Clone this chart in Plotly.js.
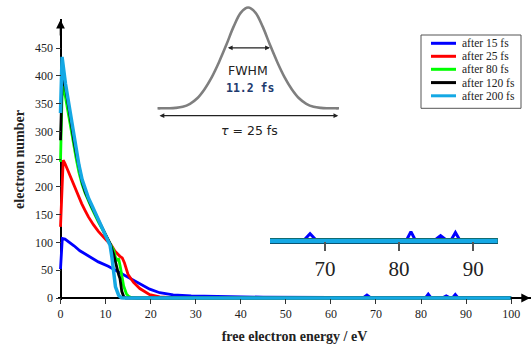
<!DOCTYPE html>
<html><head><meta charset="utf-8">
<script src="https://cdn.plot.ly/plotly-3.0.1.min.js"></script>
<style>html,body{margin:0;padding:0;background:#fff}#chart{width:532px;height:344px}</style>
</head><body><div id="chart"></div>
<script>
// ---------- data ----------
const seriesNames  = ['after 15 fs','after 25 fs','after 80 fs','after 120 fs','after 200 fs'];
const seriesColors = ['#0000ff','#ff0000','#00ff00','#000000','#14a8e4'];

const x15 = [0, 0.4, 1.0, 1.7, 3.0, 4.3, 6.2, 8.4, 10.6, 13.6, 16.5, 18.3, 19.8, 22, 25, 29, 36, 45, 60, 67.2, 68.0, 68.8, 81.0, 81.6, 82.2, 84.8, 85.6, 86.4, 87.0, 87.6, 88.2, 100];
const y15 = [52, 107, 106, 102, 94, 85, 75, 65, 57, 44, 31, 23, 16, 9.5, 5.5, 4, 2.5, 1.5, 1, 0.7, 5.5, 0.7, 0.6, 7, 0.6, 0.6, 4, 0.6, 0.6, 6.3, 0.6, 0.5];

const x25 = [0, 0.6, 1.0, 1.7, 2.5, 3.5, 4.7, 5.5, 6.2, 7.3, 8.4, 10.2, 11.2, 12.1, 12.6, 13.2, 13.7, 14.2, 15, 16.2, 17.6, 19.8, 22, 25, 30, 100];
const y25 = [128, 248, 242, 228, 212, 192, 170, 157, 146, 132, 120, 104, 96, 84, 79, 75, 72, 63, 42, 28, 17, 6, 2, 0.8, 0.2, 0];

const x80 = [0, 0.4, 1.1, 2.25, 3.0, 3.5, 4.1, 4.8, 5.5, 6.2, 6.9, 8.4, 9.8, 10.6, 11.2, 11.8, 12.4, 12.9, 13.3, 14.0, 14.6, 15.1, 15.8, 17, 100];
const y80 = [245, 385, 362, 306, 272, 250, 226, 204, 188, 174, 162, 137, 115, 102, 94, 86, 67, 71, 55, 22, 8, 3, 0.5, 0, 0];

const x120 = [0, 0.4, 1.1, 2.25, 3.0, 3.5, 4.1, 4.8, 5.5, 6.2, 6.9, 8.4, 9.8, 10.6, 11.0, 11.8, 12.5, 12.9, 13.2, 13.6, 14.0, 14.5, 100];
const y120 = [284, 400, 380, 318, 282, 260, 234, 209, 191, 177, 165, 140, 117, 102, 98, 78, 52, 42, 35, 12, 3, 0, 0];

const x200 = [0, 0.35, 1.1, 2.25, 3.0, 3.5, 4.1, 4.8, 5.5, 6.2, 6.9, 8.4, 9.8, 10.6, 11.0, 11.4, 11.8, 12.2, 12.9, 13.5, 14, 100];
const y200 = [333, 434, 386, 326, 288, 265, 239, 213, 195, 180, 168, 142, 119, 104, 95, 74, 44, 20, 5, 0.5, 0, 0];

const xTicks = [0, 10, 20, 30, 40, 50, 60, 70, 80, 90, 100];
const yTicks = [0, 50, 100, 150, 200, 250, 300, 350, 400, 450];
const insetTicks = [70, 80, 90];

// schematic pulse (time in fs, normalised intensity)
const pulseT = [-12.5, -12, -11, -10, -9, -8, -7, -6, -5, -4, -3, -2, -1, 0, 1, 2, 3, 4, 5, 6, 7, 8, 9, 10, 11, 12, 12.5];
const pulseI = [0, 0, 0.001, 0.004, 0.015, 0.045, 0.10, 0.19, 0.31, 0.46, 0.63, 0.81, 0.95, 1, 0.95, 0.81, 0.63, 0.46, 0.31, 0.19, 0.10, 0.045, 0.015, 0.004, 0.001, 0, 0];
const fwhmHalf = 3.0, fwhmLevel = 0.6, pulseSpan = 12.4, spanLevel = -0.073;

// ---------- geometry helpers ----------
const W = 532, H = 344, M = {l: 58, r: 1, t: 2, b: 44};
const pw = W - M.l - M.r, ph = H - M.t - M.b;
const fx = px => (px - M.l) / pw;
const fy = py => (H - M.b - py) / ph;

const serif = 'Liberation Serif, Times New Roman, serif';
const xs = [x15, x25, x80, x120, x200];
const ys = [y15, y25, y80, y120, y200];

const traces = [];
for (let i = 0; i < 5; i++) {
  traces.push({x: xs[i], y: ys[i], type: 'scatter', mode: 'lines', name: seriesNames[i],
    xaxis: 'x', yaxis: 'y', showlegend: false, hoverinfo: 'skip',
    line: {color: seriesColors[i], width: i === 4 ? 3.5 : 2.8}});
}
for (let i = 0; i < 5; i++) {
  traces.push({x: xs[i], y: ys[i], type: 'scatter', mode: 'lines', name: seriesNames[i],
    xaxis: 'x3', yaxis: 'y3', showlegend: false, hoverinfo: 'skip',
    line: {color: seriesColors[i], width: i === 0 ? 3 : (i === 4 ? 5 : 5.7)}});
}
traces.push({x: pulseT, y: pulseI, type: 'scatter', mode: 'lines', xaxis: 'x2', yaxis: 'y2',
  showlegend: false, hoverinfo: 'skip', line: {color: '#7f7f7f', width: 2.6, shape: 'spline', smoothing: 1}});

const tickFont = {family: serif, size: 12, color: '#222'};
const mainX = [-0.554, 104.4], mainY = [-3.6, 502.2];
const yDomTop = fy(19);

const layout = {
  width: W, height: H, margin: M, paper_bgcolor: '#fff', plot_bgcolor: 'rgba(0,0,0,0)',
  showlegend: false,
  xaxis: {domain: [0, 1], range: mainX, anchor: 'free', position: fy(298), tickmode: 'array', tickvals: xTicks,
    ticks: 'outside', ticklen: 5, tickwidth: 1, tickcolor: '#333', showgrid: false, showline: false,
    zeroline: true, zerolinecolor: '#000', zerolinewidth: 2, tickfont: tickFont,
    title: {text: 'free electron energy / eV', font: {family: serif, size: 14, color: '#222', weight: 'bold'}, standoff: 11}},
  yaxis: {domain: [0, yDomTop], range: mainY, anchor: 'free', position: fx(60.5), tickmode: 'array', tickvals: yTicks,
    ticks: 'outside', ticklen: 5, tickwidth: 1, tickcolor: '#333', showgrid: false, showline: false,
    zeroline: true, zerolinecolor: '#000', zerolinewidth: 2, tickfont: tickFont,
    title: {text: 'electron number', font: {family: serif, size: 14, color: '#222', weight: 'bold'}, standoff: 6}},
  xaxis4: {overlaying: 'x', range: mainX, anchor: 'free', position: fy(298), tickmode: 'array', tickvals: xTicks,
    ticks: 'inside', ticklen: 6, tickwidth: 1, tickcolor: '#333', showticklabels: false, showgrid: false, zeroline: false, showline: false},
  yaxis4: {overlaying: 'y', range: mainY, anchor: 'free', position: fx(60.5), tickmode: 'array', tickvals: yTicks,
    ticks: 'inside', ticklen: 6, tickwidth: 1, tickcolor: '#333', showticklabels: false, showgrid: false, zeroline: false, showline: false},
  xaxis2: {domain: [fx(157.3), fx(339)], range: [-12.5, 12.5], anchor: 'y2', visible: false},
  yaxis2: {domain: [fy(118.4), fy(2.46)], range: [-0.1, 1.05], anchor: 'x2', visible: false},
  xaxis3: {domain: [fx(270), fx(497.7)], range: [62.6, 93.3], anchor: 'free', position: fy(241), tickmode: 'array',
    tickvals: insetTicks, ticks: 'outside', ticklen: 9, tickwidth: 1.5, tickcolor: '#555', showgrid: false,
    showline: false, zeroline: false, tickfont: {family: serif, size: 21, color: '#222'}},
  xaxis5: {overlaying: 'x3', range: [62.6, 93.3], anchor: 'free', position: fy(241), tickmode: 'array',
    tickvals: insetTicks, ticks: 'inside', ticklen: 9, tickwidth: 1.5, tickcolor: '#555', showticklabels: false,
    showgrid: false, showline: false, zeroline: false},
  yaxis3: {domain: [fy(256), fy(220)], range: [-11.1, 15.6], anchor: 'x3', visible: false},
  annotations: [
    {xref: 'x', yref: 'y', axref: 'x', ayref: 'y', x: 104.2, y: 0, ax: 99.5, ay: 0, text: '', showarrow: true,
     arrowhead: 2, arrowsize: 1.1, arrowwidth: 1.6, arrowcolor: '#000'},
    {xref: 'x', yref: 'y', axref: 'x', ayref: 'y', x: 0, y: 501, ax: 0, ay: 470, text: '', showarrow: true,
     arrowhead: 2, arrowsize: 1.1, arrowwidth: 1.6, arrowcolor: '#000'},
    {xref: 'x2', yref: 'y2', axref: 'x2', ayref: 'y2', x: fwhmHalf, y: fwhmLevel, ax: -fwhmHalf, ay: fwhmLevel, text: '',
     showarrow: true, arrowside: 'end+start', arrowhead: 2, arrowsize: 0.8, arrowwidth: 1.2, arrowcolor: '#222'},
    {xref: 'x2', yref: 'y2', axref: 'x2', ayref: 'y2', x: pulseSpan, y: spanLevel, ax: -pulseSpan, ay: spanLevel, text: '',
     showarrow: true, arrowside: 'end+start', arrowhead: 2, arrowsize: 0.8, arrowwidth: 1.2, arrowcolor: '#222'},
    {xref: 'x2', yref: 'paper', x: 0, y: fy(70.7), text: 'FWHM', showarrow: false, xanchor: 'center', yanchor: 'middle',
     font: {family: 'DejaVu Sans, sans-serif', size: 12.5, color: '#222'}},
    {xref: 'x2', yref: 'paper', x: 0.2, y: fy(88.3), text: '<b>11.2 fs</b>', showarrow: false, xanchor: 'center', yanchor: 'middle',
     font: {family: 'DejaVu Sans Mono, monospace', size: 11.5, color: '#1e3a6e'}},
    {xref: 'x2', yref: 'paper', x: 0.2, y: fy(130), text: '<i>τ</i> = 25 fs', showarrow: false, xanchor: 'center', yanchor: 'middle',
     font: {family: 'DejaVu Sans, sans-serif', size: 12.5, color: '#222'}}
  ],
  shapes: [
    {type: 'rect', xref: 'paper', yref: 'paper', x0: fx(421), x1: fx(521), y0: fy(108.3), y1: fy(35),
     line: {color: '#555', width: 1}, fillcolor: '#fff', layer: 'above'}
  ]
};

// custom compact legend built from series names / colours
const legendRows = [43.3, 56.3, 69.3, 82.6, 95.8];
for (let i = 0; i < 5; i++) {
  layout.shapes.push({type: 'line', xref: 'paper', yref: 'paper', x0: fx(431), x1: fx(456),
    y0: fy(legendRows[i]), y1: fy(legendRows[i]), line: {color: seriesColors[i], width: 3}, layer: 'above'});
  layout.annotations.push({xref: 'paper', yref: 'paper', x: fx(460), y: fy(legendRows[i]), text: seriesNames[i],
    showarrow: false, xanchor: 'left', yanchor: 'middle', font: {family: serif, size: 11.5, color: '#222'}});
}

Plotly.newPlot('chart', traces, layout, {displayModeBar: false, staticPlot: true});
</script>
</body></html>
